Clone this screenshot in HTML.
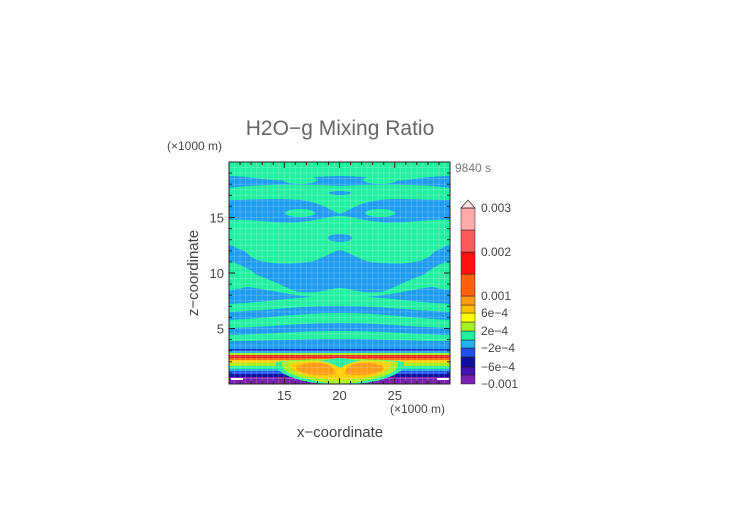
<!DOCTYPE html>
<html><head><meta charset="utf-8">
<style>
html,body{margin:0;padding:0;background:#fff;width:752px;height:532px;overflow:hidden}
svg text{font-family:"Liberation Sans",sans-serif;fill:#444}
</style></head>
<body>
<svg id="chart" width="752" height="532" viewBox="0 0 752 532" xmlns="http://www.w3.org/2000/svg">
<defs><clipPath id="pc"><rect x="229" y="162" width="221" height="222"/></clipPath></defs>
<text x="340" y="135" font-size="21" text-anchor="middle" style="font-weight:300;fill:#666">H2O−g Mixing Ratio</text>
<text x="167" y="150" font-size="12">(×1000 m)</text>
<text x="455" y="172" font-size="12" style="fill:#777">9840 s</text>
<g id="field" clip-path="url(#pc)">
<rect x="229" y="162" width="221" height="222" fill="#1e9cf2"/>
<path d="M229 162 H450 V176 C420 176 410 182 390 180 C370 178 360 176 340 176 C320 176 310 178 290 180 C270 182 250 176 229 176Z" fill="#22f0a0"/>
<ellipse cx="300" cy="180" rx="17" ry="4" fill="#22f0a0"/><ellipse cx="380" cy="180" rx="17" ry="4" fill="#22f0a0"/>
<path d="M229 188 C260 184 300 184 340 186 C380 184 420 184 450 188 V200 C420 200 400 198 380 200 C360 202 350 210 340 214 C330 210 320 202 300 200 C280 198 250 200 229 200Z" fill="#22f0a0"/>
<ellipse cx="340" cy="193" rx="11" ry="2" fill="#1e9cf2"/>
<ellipse cx="300" cy="213" rx="15" ry="4" fill="#22f0a0"/><ellipse cx="380" cy="213" rx="15" ry="4" fill="#22f0a0"/>
<path d="M229 220 C250 218 270 224 300 222 C320 220 330 216 340 216 C350 216 360 220 380 222 C410 224 430 218 450 220 V248 C440 248 436 250 430 256 C420 264 395 265 370 262 C355 258 345 250 340 250 C335 250 325 258 310 262 C285 265 260 264 250 256 C244 250 240 248 229 248Z" fill="#22f0a0"/>
<ellipse cx="340" cy="238" rx="12" ry="4" fill="#1e9cf2"/>
<path d="M229 245 C235 245 240 250 240 258 H229Z" fill="#1e9cf2"/>
<path d="M450 245 C444 245 439 250 439 258 H450Z" fill="#1e9cf2"/>
<path d="M229 262 C238 262 245 268 250 270 C260 275 260 288 229 290Z" fill="#22f0a0"/>
<path d="M450 262 C441 262 434 268 430 270 C420 275 420 288 450 290Z" fill="#22f0a0"/>
<path d="M229 270 C260 270 290 292 300 292 C320 294 330 288 340 288 C350 288 360 294 380 292 C390 292 420 270 450 270 V285 C410 288 390 298 340 298 C290 298 270 288 229 285Z" fill="#22f0a0"/>
<path d="M229 304 C270 302 300 296 340 296 C380 296 410 302 450 304 V312 C410 310 380 306 340 306 C300 306 270 310 229 312Z" fill="#22f0a0"/>
<path d="M229 320 C270 318 300 313 340 313 C380 313 410 318 450 320 V328 C410 327 380 323 340 323 C300 323 270 327 229 328Z" fill="#22f0a0"/>
<path d="M229 335 C270 334 300 331 340 331 C380 331 410 334 450 335 V341 C410 341 380 339 340 339 C300 339 270 341 229 341Z" fill="#22f0a0"/>
<rect x="229" y="349" width="221" height="2" fill="#1533c8"/>
<rect x="229" y="351" width="221" height="2" fill="#22b8f0"/>
<rect x="229" y="353" width="221" height="2" fill="#a8f020"/>
<rect x="229" y="355" width="221" height="3" fill="#f02020"/>
<rect x="229" y="358" width="221" height="2" fill="#ff7010"/>
<rect x="229" y="360" width="221" height="3" fill="#ffd000"/>
<rect x="229" y="363" width="221" height="3" fill="#a8f020"/>
<rect x="229" y="366" width="221" height="3" fill="#22f0a0"/>
<rect x="229" y="369" width="221" height="2" fill="#22b0f0"/>
<rect x="229" y="371" width="221" height="3" fill="#1e50f0"/>
<rect x="229" y="374" width="221" height="3" fill="#1010a0"/>
<rect x="229" y="377" width="221" height="7" fill="#7a20b0"/>
<rect x="231" y="378" width="12" height="2" fill="#fff"/><rect x="437" y="378" width="12" height="2" fill="#fff"/>
<path d="M276 362 C300 358 380 358 404 362 C406 372 390 378 372 382 C360 384 350 384 340 384 C330 384 320 384 308 382 C290 378 274 372 276 362Z" fill="#22f0a0"/>
<path d="M282 362 C300 358 380 358 398 362 C400 372 384 377 368 380 C356 383 350 384 340 384 C330 384 324 383 312 380 C296 377 280 372 282 362Z" fill="#a8f020"/>
<path d="M290 363 C300 360 380 360 390 363 C392 371 378 376 362 378 C352 379 345 380 340 380 C335 380 328 379 318 378 C302 376 288 371 290 363Z" fill="#ffd000"/>
<path d="M296 368 C298 364 310 362 320 363 C330 364 334 368 336 374 C325 376 300 376 296 368Z M344 374 C346 368 350 364 360 363 C370 362 382 364 384 368 C380 376 355 376 344 374Z" fill="#ff9a10"/>
<path d="M318 361 C330 362 335 365 340 368 C345 365 350 362 362 361 C352 360 345 358 340 358 C335 358 328 360 318 361Z" fill="#22f0a0"/>
<g id="grid" stroke="#fff" stroke-opacity="0.18" stroke-width="1"></g>
</g>
<rect x="229" y="162" width="221" height="222" fill="none" stroke="#222" stroke-width="1"/>
<g id="axes"></g>
<g id="colorbar"></g>
<text x="340" y="437" font-size="15" text-anchor="middle">x−coordinate</text>
<text x="390" y="413" font-size="12">(×1000 m)</text>
<text transform="translate(198,273) rotate(-90)" font-size="15" text-anchor="middle">z−coordinate</text>
</svg>
<script>
const xTicks=[15,20,25];
const yTicks=[5,10,15];
const cbColors=["#7a20b0","#4010b0","#1010a0","#1e50f0","#22b0f0","#22f0a0","#a8f020","#ffff00","#ffc000","#ff9a10","#ff6010","#ff1010","#ff5a5a","#ffaaaa"];
const cbLabels=["−0.001","−6e−4","−2e−4","2e−4","6e−4","0.001","0.002","0.003"];
const cbLabelIdx=[0,2,4,6,8,10,12,14];
const cbBounds=[384,375,367,357,348,340,331,322,313,305,296,274,252,230,208];
const ns="http://www.w3.org/2000/svg";
const X=v=>229+(v-10)*11.05, Y=v=>384-v*11.1;
const axes=document.getElementById('axes');
function mk(t,a,p){const e=document.createElementNS(ns,t);for(const k in a)e.setAttribute(k,a[k]);(p||axes).appendChild(e);return e;}
const grid=document.getElementById('grid');
for(let v=10.5;v<30;v+=0.5){mk('line',{x1:X(v),x2:X(v),y1:162,y2:384},grid);}
for(let v=0.5;v<20;v+=0.5){mk('line',{x1:229,x2:450,y1:Y(v),y2:Y(v)},grid);}
for(let v=11;v<30;v++){const l=mk('line',{x1:X(v),x2:X(v),y1:384,y2:v%5?381:378,stroke:'#222'});
mk('line',{x1:X(v),x2:X(v),y1:162,y2:v%5?165:168,stroke:'#222'});}
for(let v=1;v<20;v++){mk('line',{x1:229,x2:v%5?232:235,y1:Y(v),y2:Y(v),stroke:'#222'});mk('line',{x1:450,x2:v%5?447:444,y1:Y(v),y2:Y(v),stroke:'#222'});}
xTicks.forEach(v=>{const t=mk('text',{x:X(v),y:400,'font-size':13,'text-anchor':'middle'});t.textContent=v;

});
yTicks.forEach(v=>{const t=mk('text',{x:224,y:Y(v)+5,'font-size':13,'text-anchor':'end'});t.textContent=v;

});
const cb=document.getElementById('colorbar');
cbColors.forEach((c,i)=>{const r=mk('rect',{x:461,y:cbBounds[i+1],width:14,height:cbBounds[i]-cbBounds[i+1],fill:c,stroke:'#222','stroke-width':0.5},cb);

});
mk('path',{d:'M461 208 L468 200 L475 208Z',fill:'#ffe0e0',stroke:'#222','stroke-width':0.7},cb);
cbLabels.forEach((s,i)=>{const t=mk('text',{x:481,y:cbBounds[cbLabelIdx[i]]+4,'font-size':12},cb);t.textContent=s;

});
</script>
</body></html>
